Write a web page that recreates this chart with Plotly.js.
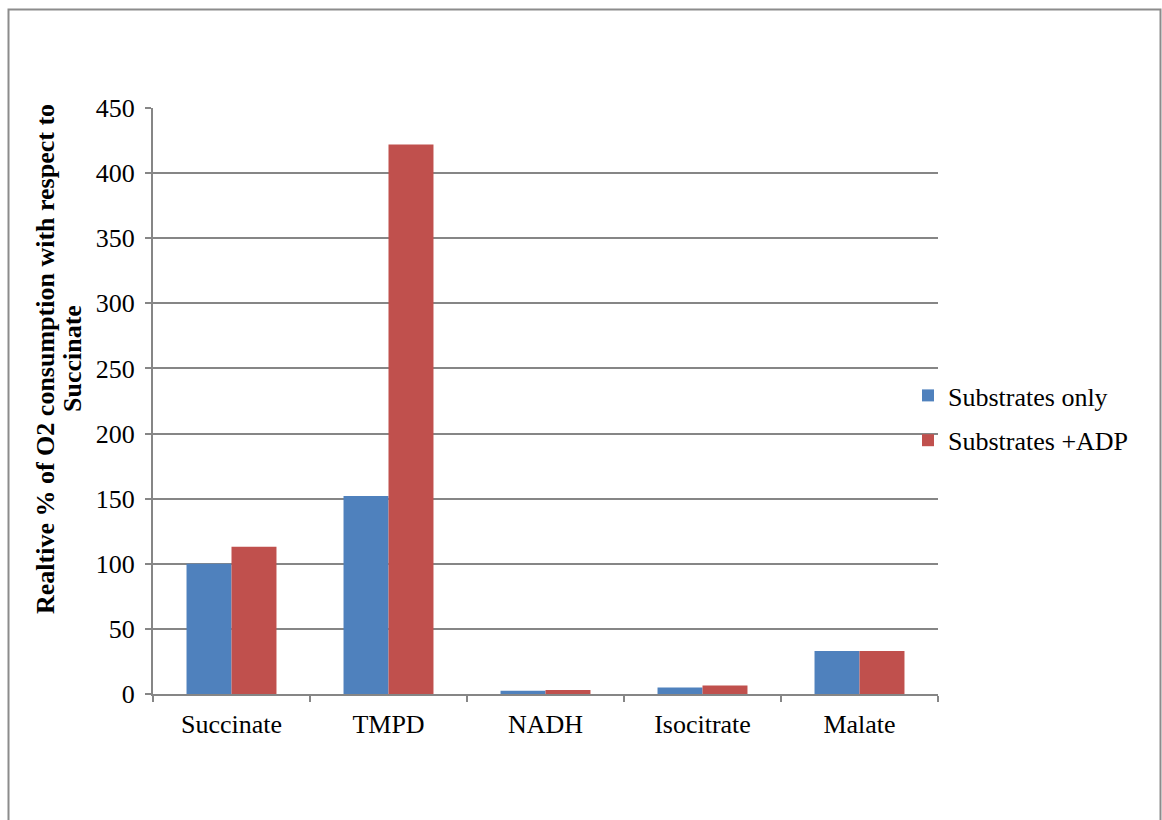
<!DOCTYPE html>
<html>
<head>
<meta charset="utf-8">
<script src="https://cdn.plot.ly/plotly-3.0.1.min.js"></script>
<style>
  html, body { margin: 0; padding: 0; background: #ffffff; }
  #chart { width: 1162px; height: 820px; }
</style>
</head>
<body>
<div id="chart"></div>
<script>
// Substrates tested
const categories = ["Succinate", "TMPD", "NADH", "Isocitrate", "Malate"];
// Relative O2 consumption (% of succinate)
const substratesOnly = [100, 152, 2.5, 5, 33];
const substratesADP = [113, 422, 3, 6.5, 33];
const seriesNames = ["Substrates only", "Substrates +ADP"];
const yTicks = [0, 50, 100, 150, 200, 250, 300, 350, 400, 450];

const serif = 'Liberation Serif, Times New Roman, serif';
const gridGray = '#868686';

// plot area in pixels
const W = 1162, H = 820;
const L = 153, R = 938, T = 108, B = 694;
const pw = R - L, ph = B - T;
const px = x => (x - L) / pw;
const py = y => (B - y) / ph;

const traces = [
  { type: 'bar', name: seriesNames[0], x: categories, y: substratesOnly,
    marker: { color: '#4F81BD' }, legendgroup: 'a' },
  { type: 'bar', name: seriesNames[1], x: categories, y: substratesADP,
    marker: { color: '#C0504D' }, legendgroup: 'b' }
];

const layout = {
  width: W, height: H,
  margin: { l: L, r: W - R, t: T, b: H - B, pad: 0 },
  paper_bgcolor: '#ffffff', plot_bgcolor: '#ffffff',
  font: { family: serif, size: 26, color: '#000000' },
  barmode: 'group', bargap: 0.427, bargroupgap: 0,
  showlegend: true,
  legend: {
    x: px(908), y: py(372), xanchor: 'left', yanchor: 'top',
    traceorder: 'grouped', tracegroupgap: 8,
    font: { family: serif, size: 26, color: '#000000' },
    bgcolor: 'rgba(0,0,0,0)', borderwidth: 0
  },
  xaxis: {
    type: 'category', tickson: 'boundaries',
    ticks: 'outside', ticklen: 6, tickcolor: gridGray, tickwidth: 2,
    showline: true, linecolor: gridGray, linewidth: 2,
    showgrid: false, zeroline: false,
    tickfont: { family: serif, size: 26, color: '#000000' },
    ticklabelstandoff: 6
  },
  yaxis: {
    range: [0, 450], tickvals: yTicks, ticktext: yTicks.map(String),
    ticks: 'outside', ticklen: 6, tickcolor: gridGray, tickwidth: 2,
    showline: true, linecolor: gridGray, linewidth: 2,
    showgrid: true, gridcolor: gridGray, gridwidth: 2,
    zeroline: false,
    tickfont: { family: serif, size: 26, color: '#000000' },
    ticklabelstandoff: 5
  },
  annotations: [
    { xref: 'paper', yref: 'paper', x: px(45), y: py(359),
      xanchor: 'center', yanchor: 'middle', textangle: -90, showarrow: false,
      text: '<b>Realtive % of O2 consumption with respect to</b>',
      font: { family: serif, size: 26, color: '#000000' } },
    { xref: 'paper', yref: 'paper', x: px(72), y: py(359),
      xanchor: 'center', yanchor: 'middle', textangle: -90, showarrow: false,
      text: '<b>Succinate</b>',
      font: { family: serif, size: 26, color: '#000000' } }
  ],
  shapes: [
    { type: 'rect', xref: 'paper', yref: 'paper', layer: 'below',
      x0: px(8.5), x1: px(1160.5), y0: py(9.5), y1: py(840),
      line: { color: '#8c8c8c', width: 2 }, fillcolor: 'rgba(0,0,0,0)' }
  ]
};

Plotly.newPlot('chart', traces, layout, { displayModeBar: false, staticPlot: true });
</script>
</body>
</html>
